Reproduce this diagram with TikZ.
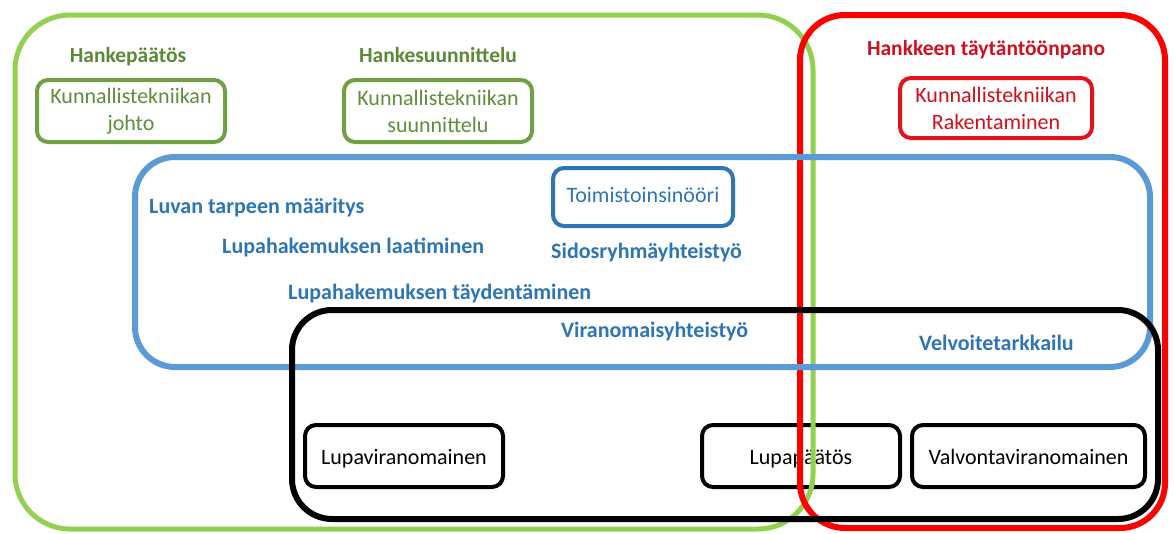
\documentclass[tikz,border=0pt]{standalone}
\usepackage{fontspec}
\setmainfont{Carlito}
\definecolor{lightgreen}{HTML}{92D050}
\definecolor{boxgreen}{HTML}{6FA044}
\definecolor{textgreen}{HTML}{5E8E3C}
\definecolor{headgreen}{HTML}{5A8A36}
\definecolor{bigred}{HTML}{FF0000}
\definecolor{boxred}{HTML}{E4131B}
\definecolor{textred}{HTML}{D0101E}
\definecolor{bigblue}{HTML}{5B9BD5}
\definecolor{boxblue}{HTML}{2E75B6}
\definecolor{textblue}{HTML}{2E75B6}
\tikzset{
  region/.style={rectangle, inner sep=0pt, outer sep=0pt},
  unit/.style={rectangle, rounded corners=11pt, line width=4pt, inner sep=0pt,
    align=center, font=\fontsize{22}{27}\selectfont},
  authunit/.style={unit, draw=black, text=black, minimum height=62pt,
    text height=18pt, text depth=2pt},
  heading/.style={inner sep=0pt, font=\bfseries\fontsize{21.5}{26}\selectfont,
    text height=14pt, text depth=5pt},
  task/.style={inner sep=0pt, anchor=west, text=textblue,
    font=\bfseries\fontsize{22}{26}\selectfont, text height=14pt, text depth=5pt},
}
\begin{document}
\begin{tikzpicture}[x=1pt, y=-1pt]
\useasboundingbox (0,0) rectangle (1174,533);
\fill[white] (0,0) rectangle (1174,533);

% permit-authority units (lie beneath the phase frames)
\node[authunit, minimum width=198pt] (lupavir) at (404,456) {Lupaviranomainen};
\node[authunit, minimum width=198pt] (lupapaat) at (801,456) {Lupapäätös};
\node[authunit, minimum width=233pt] (valvonta) at (1028.5,456) {Valvontaviranomainen};

% phase frames
\node[region, draw=lightgreen, line width=5pt, rounded corners=55pt,
  minimum width=798pt, minimum height=514pt] (planning) at (414,272) {};
\node[region, draw=bigred, line width=6pt, rounded corners=45pt,
  minimum width=365pt, minimum height=513pt] (execution) at (982.5,271.5) {};
\node[region, draw=bigblue, line width=6pt, rounded corners=40pt,
  minimum width=1015pt, minimum height=210pt] (permit) at (642.5,262) {};
\node[region, draw=black, line width=6pt, rounded corners=40pt,
  minimum width=866pt, minimum height=209pt] (authority) at (725,414.5) {};

% phase headings
\node[heading, text=headgreen] (hpaatos) at (128,58) {Hankepäätös};
\node[heading, text=headgreen] (hsuunn) at (438,58) {Hankesuunnittelu};
\node[heading, text=textred] (htayt) at (986,50.5) {Hankkeen täytäntöönpano};

% organisation units
\node[unit, draw=boxgreen, text=textgreen, minimum width=188pt, minimum height=62pt]
  (johto) at (131,111) {Kunnallistekniikan\\johto};
\node[unit, draw=boxgreen, text=textgreen, minimum width=188pt, minimum height=62pt]
  (suunn) at (438,111) {Kunnallistekniikan\\suunnittelu};
\node[unit, draw=boxred, text=textred, minimum width=192pt, minimum height=60pt]
  (rakent) at (996,108) {Kunnallistekniikan\\Rakentaminen};
\node[unit, draw=boxblue, text=textblue, minimum width=180pt, minimum height=58pt,
  text height=15pt, text depth=5pt] (toimisto) at (643,197) {Toimistoinsinööri};

% permit process tasks
\node[task] (t1) at (149,208.5) {Luvan tarpeen määritys};
\node[task] (t2) at (222,248.5) {Lupahakemuksen laatiminen};
\node[task] (t3) at (551,254) {Sidosryhmäyhteistyö};
\node[task] (t4) at (288,295) {Lupahakemuksen täydentäminen};
\node[task] (t5) at (561,333) {Viranomaisyhteistyö};
\node[task] (t6) at (919,346) {Velvoitetarkkailu};
\end{tikzpicture}
\end{document}
